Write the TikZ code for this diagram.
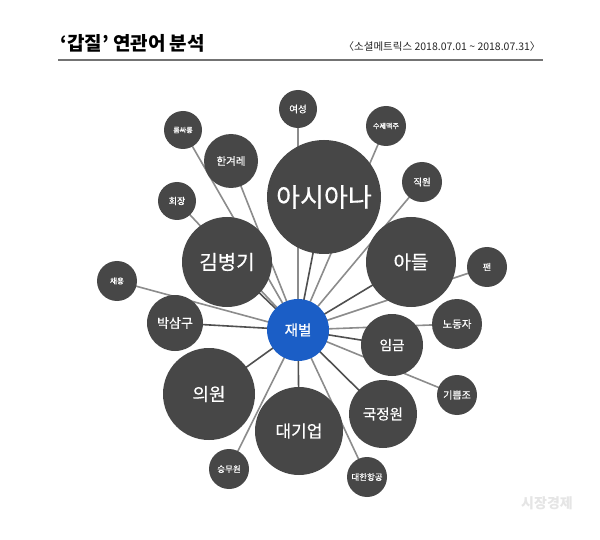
\documentclass[tikz,border=0pt]{standalone}
\usepackage{fontspec}
\setmainfont{Noto Sans CJK KR}
\newfontfamily\medfont{Noto Sans CJK KR}[FakeBold=0.6]
\usetikzlibrary{backgrounds}
\definecolor{bubgray}{HTML}{474747}
\definecolor{jbblue}{HTML}{1B5EC6}
\definecolor{darkline}{HTML}{505050}
\definecolor{lightline}{HTML}{8C8C8C}
\newcommand{\fs}[1]{\medfont\fontsize{#1}{#1}\selectfont}
\begin{document}
\begin{tikzpicture}[x=1pt,y=-1pt,
	bub/.style={circle,fill=bubgray,text=white,inner sep=0pt},
	dk/.style={draw=darkline,line width=1.6pt},
	lt/.style={draw=lightline,line width=1.6pt}]
	\useasboundingbox (0,0) rectangle (600,540);
	\node[anchor=west,font=\bfseries\fontsize{19}{19}\selectfont] (title) at (57,43) {‘갑질’ 연관어 분석};
	\node[anchor=east,font=\fontsize{10.5}{10.5}\selectfont,text=black!85] (period) at (544,47) {〈소셜메트릭스 2018.07.01 \textasciitilde{} 2018.07.31〉};
	\draw[black!55,line width=2pt] (58,60) -- (543,60);
	\node[circle,fill=jbblue,text=white,inner sep=0pt,minimum size=62pt,font=\fs{14.5}] (jb) at (298,330) {재벌};
	\node[bub,minimum size=114pt,font=\fs{26}] (asiana) at (324,197) {아시아나};
	\node[bub,minimum size=90pt,font=\fs{20}] (kim) at (227,262) {김병기};
	\node[bub,minimum size=54pt,font=\fs{10.5}] (hani) at (231,161) {한겨레};
	\node[bub,minimum size=38pt,font=\fs{7}] (room) at (183,130) {룸싸롱};
	\node[bub,minimum size=38pt,font=\fs{9.5}] (women) at (298,109) {여성};
	\node[bub,minimum size=38pt,font=\fs{9}] (chair) at (177,201) {회장};
	\node[bub,minimum size=40pt,font=\fs{7.5}] (hire) at (117,281) {채용};
	\node[bub,minimum size=56pt,font=\fs{13}] (park) at (175,323) {박삼구};
	\node[bub,minimum size=92pt,font=\fs{18}] (member) at (209,394) {의원};
	\node[bub,minimum size=88pt,font=\fs{17}] (corp) at (299,431) {대기업};
	\node[bub,minimum size=40pt,font=\fs{8.5}] (crew) at (229,469) {승무원};
	\node[bub,minimum size=40pt,font=\fs{8.5}] (kal) at (367,477) {대한항공};
	\node[bub,minimum size=68pt,font=\fs{14.5}] (nis) at (383,414) {국정원};
	\node[bub,minimum size=62pt,font=\fs{13.5}] (wage) at (392,345) {임금};
	\node[bub,minimum size=50pt,font=\fs{10.5}] (labor) at (457,324) {노동자};
	\node[bub,minimum size=40pt,font=\fs{10}] (joy) at (457,395) {기쁨조};
	\node[bub,minimum size=90pt,font=\fs{19}] (son) at (411,262) {아들};
	\node[bub,minimum size=40pt,font=\fs{9}] (fan) at (487,267) {팬};
	\node[bub,minimum size=40pt,font=\fs{9.5}] (staff) at (422,182) {직원};
	\node[bub,minimum size=40pt,font=\fs{7}] (beer) at (386,126) {수제맥주};
	\node[text=black!10,font=\bfseries\fontsize{14}{14}\selectfont] (mark) at (547,503) {시장경제};
	\begin{scope}[on background layer]
	\fill[white] (0,0) rectangle (600,540);
	\foreach \n in {asiana,kim,son,wage,nis,corp,member,park}
		\draw[dk] (jb.center) -- (\n.center);
	\foreach \n in {hani,room,women,chair,hire,crew,kal,labor,joy,fan,staff,beer}
		\draw[lt] (jb.center) -- (\n.center);
	\end{scope}
\end{tikzpicture}
\end{document}
